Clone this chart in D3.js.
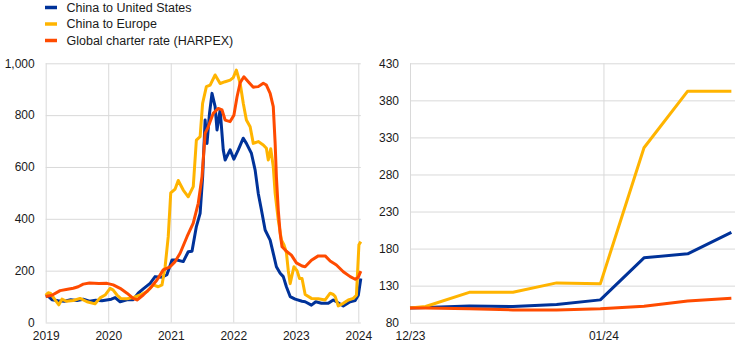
<!DOCTYPE html>
<html>
<head>
<meta charset="utf-8">
<script src="https://cdn.jsdelivr.net/npm/d3@7"></script>
<style>
  html, body { margin: 0; padding: 0; background: #fff; }
  svg { display: block; font-family: "Liberation Sans", Arial, sans-serif; }
  .axis text { fill: #1a1a1a; font-size: 12px; }
  .axis line { stroke: #d9d9d9; stroke-width: 1; }
  .axis path { display: none; }
</style>
</head>
<body>
<svg id="chart" width="744" height="348"></svg>
<script>
// ---------------- DATA ----------------
const seriesNames = ["China to United States", "China to Europe", "Global charter rate (HARPEX)"];
const seriesColors = ["#003299", "#ffb400", "#ff4b00"];

// Left panel: [year (decimal), value]
const usLong = [
  [2019.0,100],[2019.04,102],[2019.1,88],[2019.2,84],[2019.3,82],[2019.4,88],[2019.5,85],[2019.6,90],
  [2019.7,82],[2019.8,86],[2019.9,84],[2020.0,88],[2020.05,90],[2020.11,96],[2020.19,80],[2020.3,88],
  [2020.4,88],[2020.48,113],[2020.56,130],[2020.67,151],[2020.75,177],[2020.86,175],[2020.94,185],
  [2021.02,241],[2021.1,241],[2021.2,235],[2021.28,273],[2021.34,275],[2021.41,370],[2021.47,421],
  [2021.51,562],[2021.55,781],[2021.58,691],[2021.62,807],[2021.66,884],[2021.71,833],[2021.74,743],
  [2021.79,820],[2021.84,666],[2021.87,627],[2021.95,666],[2022.01,630],[2022.08,666],[2022.16,711],
  [2022.21,691],[2022.29,653],[2022.35,588],[2022.4,498],[2022.45,435],[2022.51,357],[2022.59,318],
  [2022.64,267],[2022.69,215],[2022.75,190],[2022.8,177],[2022.85,138],[2022.91,100],[2022.99,90],
  [2023.1,82],[2023.15,80],[2023.25,67],[2023.32,80],[2023.41,74],[2023.52,74],[2023.6,87],
  [2023.65,80],[2023.76,64],[2023.87,80],[2023.95,85],[2024.0,105],[2024.04,170]
];
const euLong = [
  [2019.0,105],[2019.04,115],[2019.08,112],[2019.15,87],[2019.21,68],[2019.26,90],[2019.33,82],
  [2019.44,85],[2019.55,93],[2019.66,80],[2019.79,72],[2019.87,95],[2019.95,106],[2020.03,132],
  [2020.08,125],[2020.14,106],[2020.2,93],[2020.3,92],[2020.4,96],[2020.51,106],[2020.62,119],
  [2020.72,145],[2020.8,138],[2020.86,145],[2020.91,215],[2020.96,331],[2021.0,500],[2021.07,515],
  [2021.12,548],[2021.2,511],[2021.28,485],[2021.36,524],[2021.41,704],[2021.47,717],[2021.51,846],
  [2021.57,910],[2021.63,916],[2021.71,955],[2021.79,922],[2021.87,929],[2021.95,935],[2022.0,945],
  [2022.05,974],[2022.11,923],[2022.16,846],[2022.21,781],[2022.27,755],[2022.32,691],[2022.4,698],
  [2022.48,685],[2022.53,672],[2022.56,627],[2022.6,670],[2022.64,601],[2022.67,498],[2022.72,395],
  [2022.77,318],[2022.81,300],[2022.85,270],[2022.88,200],[2022.91,150],[2022.97,215],[2023.02,200],
  [2023.06,170],[2023.1,170],[2023.15,108],[2023.25,93],[2023.36,92],[2023.47,87],[2023.55,113],
  [2023.6,108],[2023.63,100],[2023.68,64],[2023.76,74],[2023.84,87],[2023.92,93],[2023.97,105],
  [2024.01,300],[2024.04,312]
];
const hxLong = [
  [2019.0,100],[2019.1,105],[2019.23,123],[2019.35,128],[2019.44,132],[2019.52,138],[2019.6,148],
  [2019.7,152],[2019.85,150],[2019.98,151],[2020.08,145],[2020.19,132],[2020.3,113],[2020.4,93],
  [2020.46,87],[2020.56,106],[2020.67,132],[2020.78,164],[2020.88,203],[2020.99,215],[2021.07,235],
  [2021.15,267],[2021.26,331],[2021.36,383],[2021.44,460],[2021.5,562],[2021.55,730],[2021.6,755],
  [2021.68,807],[2021.76,826],[2021.82,820],[2021.87,781],[2021.95,775],[2022.01,800],[2022.06,870],
  [2022.11,925],[2022.17,948],[2022.24,929],[2022.32,908],[2022.4,910],[2022.48,923],[2022.53,916],
  [2022.59,884],[2022.64,833],[2022.67,691],[2022.69,562],[2022.72,434],[2022.75,344],[2022.78,292],
  [2022.85,275],[2022.93,260],[2023.01,230],[2023.1,218],[2023.15,215],[2023.25,240],[2023.36,257],
  [2023.47,257],[2023.55,237],[2023.65,222],[2023.76,196],[2023.87,177],[2023.95,167],[2024.0,175],
  [2024.04,198]
];
const leftYTicks = [0, 200, 400, 600, 800, 1000];
const leftXTicks = [2019, 2020, 2021, 2022, 2023, 2024];

// Right panel: weekly, index (base = 100)
const shortDates = ["2023-12-01T00:00","2023-12-03T12:00","2023-12-10T12:00","2023-12-17T12:00",
  "2023-12-24T12:00","2023-12-31T12:00","2024-01-07T12:00","2024-01-14T12:00","2024-01-21T12:00"];
const usShort = [100, 100.5, 102.5, 101.8, 104.5, 110.8, 167.5, 172.9, 202];
const euShort = [100, 101.8, 121, 121, 133.7, 132.4, 316, 392.4, 392.4];
const hxShort = [100, 100, 98.7, 97.3, 97.3, 98.7, 102.2, 109.4, 113];
const rightYTicks = [80, 130, 180, 230, 280, 330, 380, 430];
const rightXTicks = ["2023-12-01", "2024-01-01"];

// ---------------- DRAW ----------------
const svg = d3.select("#chart");
const parse = d3.isoParse;

// Left panel
const L = { x0: 45.7, x1: 360.8, y0: 322.5, y1: 63.3 };
const xL = d3.scaleLinear().domain([2019, 2024.04]).range([L.x0, L.x1]);
const yL = d3.scaleLinear().domain([0, 1000]).range([L.y0, L.y1]);

svg.append("g").attr("class", "axis")
  .attr("transform", `translate(${L.x0},0)`)
  .call(d3.axisLeft(yL).tickValues(leftYTicks).tickSize(-(L.x1 - L.x0)).tickPadding(11)
    .tickFormat(d3.format(",")));
svg.append("g").attr("class", "axis")
  .attr("transform", `translate(0,${L.y0})`)
  .call(d3.axisBottom(xL).tickValues(leftXTicks).tickSize(-(L.y0 - L.y1)).tickPadding(9)
    .tickFormat(d3.format("d")));

const lineL = d3.line().x(d => xL(d[0])).y(d => yL(d[1]));
[[usLong, 0], [euLong, 1], [hxLong, 2]].forEach(([data, i]) => {
  svg.append("path").datum(data)
    .attr("d", lineL).attr("fill", "none")
    .attr("stroke", seriesColors[i]).attr("stroke-width", 3)
    .attr("stroke-linejoin", "round").attr("stroke-linecap", "butt");
});

// Right panel
const R = { x0: 410, x1: 735, y0: 322.7, y1: 63.3 };
const xR = d3.scaleTime().domain([parse("2023-12-01T00:00"), parse("2024-01-22T02:00")]).range([R.x0, R.x1]);
const yR = d3.scaleLinear().domain([80, 430]).range([R.y0, R.y1]);

svg.append("g").attr("class", "axis")
  .attr("transform", `translate(${R.x0},0)`)
  .call(d3.axisLeft(yR).tickValues(rightYTicks).tickSize(-(R.x1 - R.x0)).tickPadding(11)
    .tickFormat(d3.format("d")));
svg.append("g").attr("class", "axis")
  .attr("transform", `translate(0,${R.y0})`)
  .call(d3.axisBottom(xR).tickValues(rightXTicks.map(s => parse(s))).tickSize(-(R.y0 - R.y1)).tickPadding(9)
    .tickFormat(d3.timeFormat("%m/%y")));

const lineR = d3.line().x(d => xR(parse(d[0]))).y(d => yR(d[1]));
[[usShort, 0], [euShort, 1], [hxShort, 2]].forEach(([vals, i]) => {
  svg.append("path").datum(shortDates.map((d, k) => [d, vals[k]]))
    .attr("d", lineR).attr("fill", "none")
    .attr("stroke", seriesColors[i]).attr("stroke-width", 3)
    .attr("stroke-linejoin", "round");
});

// Legend
const leg = svg.append("g");
seriesNames.forEach((name, i) => {
  const y = 7.5 + i * 16.5;
  leg.append("line").attr("x1", 45).attr("x2", 57).attr("y1", y).attr("y2", y)
    .attr("stroke", seriesColors[i]).attr("stroke-width", 3.5);
  leg.append("text").attr("x", 66.5).attr("y", y).attr("dy", "0.35em")
    .attr("font-size", "12.5px").attr("fill", "#1a1a1a").text(name);
});
</script>
</body>
</html>
